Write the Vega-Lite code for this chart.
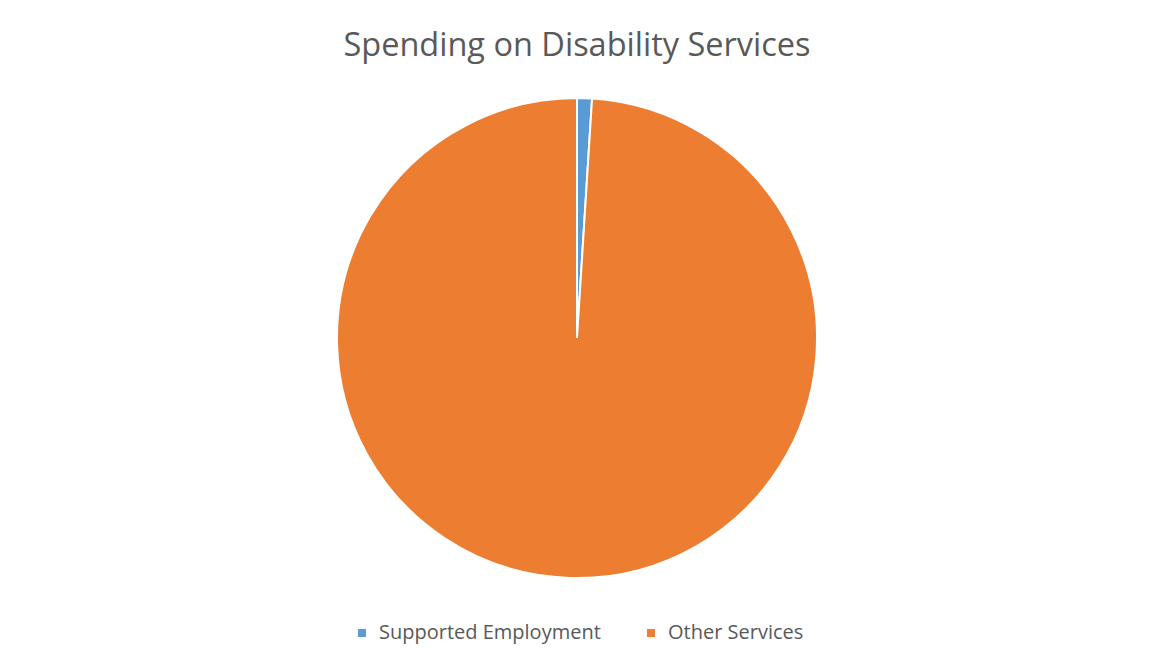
{
  "$schema": "https://vega.github.io/schema/vega-lite/v6.json",
  "autosize": {"type": "none"},
  "width": 1150,
  "height": 666,
  "padding": {"left": 2, "top": 5, "right": 0, "bottom": 0},
  "background": "white",
  "title": {
    "text": "Spending on Disability Services",
    "orient": "top",
    "anchor": "middle",
    "offset": -57,
    "font": "Open Sans",
    "fontSize": 32.5,
    "fontWeight": "normal",
    "color": "#595959"
  },
  "data": {
    "values": [
      {"category": "Supported Employment", "value": 1, "order": 1},
      {"category": "Other Services", "value": 99, "order": 2}
    ]
  },
  "mark": {"type": "arc", "outerRadius": 240, "stroke": "white", "strokeWidth": 2},
  "encoding": {
    "theta": {"field": "value", "type": "quantitative", "stack": true},
    "order": {"field": "order", "type": "quantitative"},
    "color": {
      "field": "category",
      "type": "nominal",
      "sort": ["Supported Employment", "Other Services"],
      "scale": {"domain": ["Supported Employment", "Other Services"], "range": ["#5B9BD5", "#ED7D31"]},
      "legend": {
        "title": null,
        "orient": "none",
        "direction": "horizontal",
        "legendX": 350,
        "legendY": 618,
        "symbolType": "square",
        "symbolSize": 64,
        "symbolStrokeWidth": 0,
        "labelFont": "Open Sans",
        "labelFontSize": 20,
        "labelLimit": 400,
        "labelColor": "#595959",
        "columnPadding": 40,
        "labelOffset": 7
      }
    }
  },
  "config": {"view": {"stroke": null}}
}
